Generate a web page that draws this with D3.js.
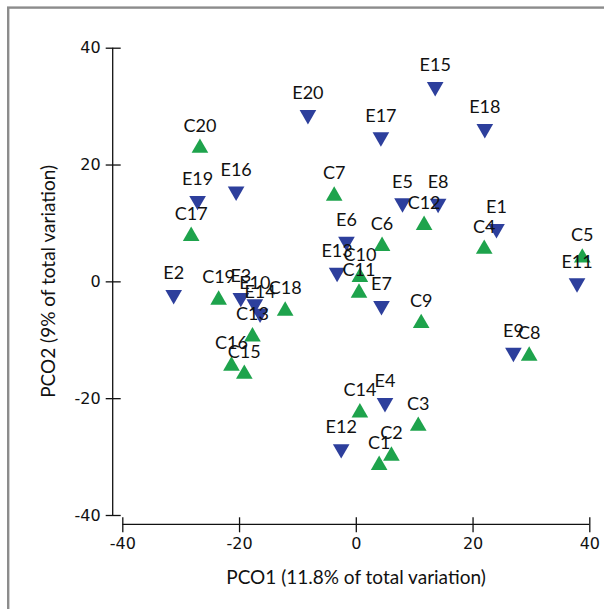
<!DOCTYPE html>
<html>
<head>
<meta charset="utf-8">
<script src="https://cdn.jsdelivr.net/npm/d3@7"></script>
<style>
	body { margin: 0; background: #fff; }
	svg { display: block; }
</style>
</head>
<body>
<script>
// PCO scores, C samples (up triangles) and E samples (down triangles)
const cNames = ["C1","C2","C3","C4","C5","C6","C7","C8","C9","C10","C11","C12","C13","C14","C15","C16","C17","C18","C19","C20"];
const cPco1 = [4.0, 6.1, 10.7, 22.0, 38.8, 4.5, -3.7, 29.7, 11.2, 0.7, 0.55, 11.7, -17.7, 0.7, -19.1, -21.3, -28.2, -12.1, -23.5, -26.7];
const cPco2 = [-31.3, -29.7, -24.6, 5.7, 4.2, 6.2, 14.8, -12.6, -7.0, 0.9, -1.8, 9.8, -9.3, -22.3, -15.7, -14.3, 7.9, -4.9, -3.0, 23.0];

const eNames = ["E1","E2","E3","E4","E5","E6","E7","E8","E9","E10","E11","E12","E13","E14","E15","E16","E17","E18","E19","E20"];
const ePco1 = [24.1, -31.2, -19.7, 5.0, 8.0, -1.6, 4.4, 14.1, 27.0, -17.3, 37.9, -2.5, -3.2, -16.4, 13.6, -20.5, 4.3, 22.1, -27.1, -8.2];
const ePco2 = [9.0, -2.3, -2.8, -20.8, 13.4, 6.8, -4.2, 13.3, -12.2, -3.9, -0.3, -28.7, 1.5, -5.5, 33.3, 15.4, 24.7, 26.1, 13.8, 28.5];

const xTicks = [-40, -20, 0, 20, 40];
const yTicks = [-40, -20, 0, 20, 40];

document.addEventListener('DOMContentLoaded', () => {
	const width = 604, height = 609;

	const svg = d3.select("body").append("svg")
		.attr("width", width)
		.attr("height", height);

	// grey frame, runs off the right and bottom edges
	svg.append("rect")
		.attr("x", 8.2).attr("y", 7.6)
		.attr("width", 700).attr("height", 700)
		.attr("fill", "none")
		.attr("stroke", "#8c8c8c")
		.attr("stroke-width", 2.4);

	const x = d3.scaleLinear().domain([-40, 40]).range([122.3, 589.3]);
	const y = d3.scaleLinear().domain([-40, 40]).range([515, 47.7]);

	const tickFont = "'DejaVu Sans', sans-serif";
	const labelFont = "Lato, 'Open Sans', sans-serif";
	const fmt = d => String(d); // plain hyphen, not the unicode minus

	// y axis
	const yAxis = svg.append("g")
		.attr("transform", "translate(112.7,0)")
		.call(d3.axisLeft(y).tickValues(yTicks).tickFormat(fmt).tickSize(7).tickPadding(5).tickSizeOuter(0));
	yAxis.selectAll(".tick line").attr("x1", 8);
	yAxis.select(".domain").attr("d", `M0,${y(-40)}V${y(40)}`);

	// x axis
	const xAxis = svg.append("g")
		.attr("transform", "translate(0,524.3)")
		.call(d3.axisBottom(x).tickValues(xTicks).tickFormat(fmt).tickSize(8).tickPadding(5).tickSizeOuter(0));
	xAxis.selectAll(".tick line").attr("y1", -7);
	xAxis.select(".domain").attr("d", `M${x(-40)},0H${x(40)}`);

	svg.selectAll(".domain, .tick line")
		.attr("stroke", "#111")
		.attr("stroke-width", 1.3);
	svg.selectAll(".tick text")
		.attr("font-family", tickFont)
		.attr("font-size", 16)
		.attr("fill", "#111");

	// axis titles
	svg.append("text")
		.attr("x", 356)
		.attr("y", 584)
		.attr("text-anchor", "middle")
		.attr("font-family", labelFont)
		.attr("font-size", 19)
		.attr("fill", "#111")
		.text("PCO1 (11.8% of total variation)");

	svg.append("text")
		.attr("transform", `translate(55,${y(0)}) rotate(-90)`)
		.attr("text-anchor", "middle")
		.attr("font-family", labelFont)
		.attr("font-size", 19)
		.attr("fill", "#111")
		.text("PCO2 (9% of total variation)");

	const cData = cNames.map((n, i) => ({ name: n, x: cPco1[i], y: cPco2[i] }));
	const eData = eNames.map((n, i) => ({ name: n, x: ePco1[i], y: ePco2[i] }));

	const tri = d3.symbol().type(d3.symbolTriangle).size(120);

	const marks = svg.append("g");
	marks.selectAll("path.e")
		.data(eData)
		.enter().append("path")
		.attr("class", "e")
		.attr("d", tri)
		.attr("transform", d => `translate(${x(d.x)},${y(d.y)}) rotate(180)`)
		.attr("fill", "#2d3f9c");

	marks.selectAll("path.c")
		.data(cData)
		.enter().append("path")
		.attr("class", "c")
		.attr("d", tri)
		.attr("transform", d => `translate(${x(d.x)},${y(d.y) + 1}) `)
		.attr("fill", "#1ea34c");

	const labels = svg.append("g")
		.attr("font-family", labelFont)
		.attr("font-size", 18)
		.attr("fill", "#111")
		.attr("text-anchor", "middle");

	labels.selectAll("text")
		.data(eData.concat(cData))
		.enter().append("text")
		.attr("x", d => x(d.x))
		.attr("y", d => y(d.y) - 15.5)
		.text(d => d.name);
});
</script>
</body>
</html>
